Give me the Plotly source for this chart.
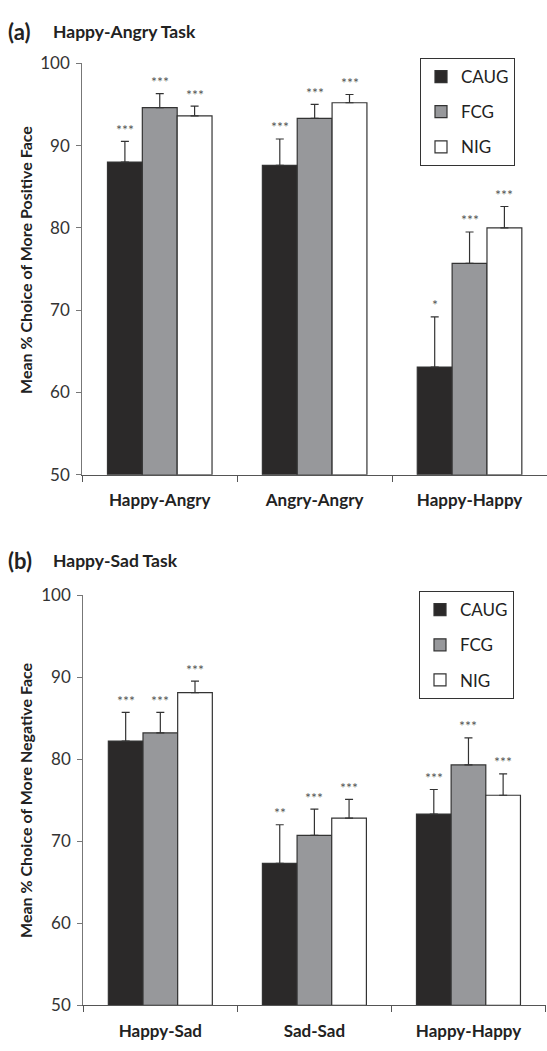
import plotly.graph_objects as go

W, H = 547, 1051

groups = ["CAUG", "FCG", "NIG"]
colors = ["#2b2929", "#97989b", "#ffffff"]

# Panel (a): Happy-Angry Task
a_categories = ["Happy-Angry", "Angry-Angry", "Happy-Happy"]
a_caug = [88.0, 87.6, 63.1]
a_fcg = [94.6, 93.3, 75.7]
a_nig = [93.6, 95.2, 80.0]
a_caug_err = [2.5, 3.2, 6.1]
a_fcg_err = [1.7, 1.7, 3.8]
a_nig_err = [1.2, 1.0, 2.6]
a_caug_sig = ["***", "***", "*"]
a_fcg_sig = ["***", "***", "***"]
a_nig_sig = ["***", "***", "***"]

# Panel (b): Happy-Sad Task
b_categories = ["Happy-Sad", "Sad-Sad", "Happy-Happy"]
b_caug = [82.2, 67.3, 73.3]
b_fcg = [83.2, 70.7, 79.3]
b_nig = [88.1, 72.8, 75.6]
b_caug_err = [3.5, 4.7, 3.0]
b_fcg_err = [2.5, 3.2, 3.3]
b_nig_err = [1.4, 2.3, 2.6]
b_caug_sig = ["***", "**", "***"]
b_fcg_sig = ["***", "***", "***"]
b_nig_sig = ["***", "***", "***"]

y_ticks = [50, 60, 70, 80, 90, 100]

FONT = "Lato"
BARGAP = 0.325


def px(x):
    return x / W


def py(y):
    return 1 - y / H


fig = go.Figure()
annotations = []

panels = [
    dict(cats=a_categories, vals=[a_caug, a_fcg, a_nig], errs=[a_caug_err, a_fcg_err, a_nig_err],
         sigs=[a_caug_sig, a_fcg_sig, a_nig_sig], xa="x", ya="y", legend="legend"),
    dict(cats=b_categories, vals=[b_caug, b_fcg, b_nig], errs=[b_caug_err, b_fcg_err, b_nig_err],
         sigs=[b_caug_sig, b_fcg_sig, b_nig_sig], xa="x2", ya="y2", legend="legend2"),
]

bw = (1 - BARGAP) / 3
for p in panels:
    for gi, g in enumerate(groups):
        fig.add_trace(go.Bar(
            x=p["cats"], y=[v - 50 for v in p["vals"][gi]], base=50, name=g,
            marker=dict(color=colors[gi], line=dict(color="#333333", width=1.2)),
            error_y=dict(type="data", array=p["errs"][gi], arrayminus=[0] * 3, symmetric=False,
                         color="#333333", thickness=1.2, width=4),
            xaxis=p["xa"], yaxis=p["ya"], legend=p["legend"], legendgroup=p["legend"] + g,
            hoverinfo="skip",
        ))
        for ci in range(3):
            annotations.append(dict(
                x=ci + (gi - 1) * bw, y=p["vals"][gi][ci] + p["errs"][gi][ci],
                xref=p["xa"], yref=p["ya"], text=p["sigs"][gi][ci], showarrow=False,
                yanchor="middle", xanchor="center", yshift=12,
                font=dict(family=FONT, size=14, color="#555555"),
            ))

# Headers and axis titles
annotations += [
    dict(x=px(6), y=py(21), xref="paper", yref="paper", text="(a)", showarrow=False,
         xanchor="left", yanchor="middle", font=dict(family=FONT, size=22, color="#222", weight="bold")),
    dict(x=px(51), y=py(21), xref="paper", yref="paper", text="Happy-Angry Task", showarrow=False,
         xanchor="left", yanchor="middle", font=dict(family=FONT, size=17.5, color="#222", weight="bold")),
    dict(x=px(6), y=py(561), xref="paper", yref="paper", text="(b)", showarrow=False,
         xanchor="left", yanchor="middle", font=dict(family=FONT, size=22, color="#222", weight="bold")),
    dict(x=px(51), y=py(561), xref="paper", yref="paper", text="Happy-Sad Task", showarrow=False,
         xanchor="left", yanchor="middle", font=dict(family=FONT, size=17.5, color="#222", weight="bold")),
    dict(x=px(26), y=py(254), xref="paper", yref="paper", text="Mean % Choice of More Positive Face",
         showarrow=False, textangle=-90, xanchor="center", yanchor="middle",
         font=dict(family=FONT, size=16, color="#222", weight="bold")),
    dict(x=px(26), y=py(805), xref="paper", yref="paper", text="Mean % Choice of More Negative Face",
         showarrow=False, textangle=-90, xanchor="center", yanchor="middle",
         font=dict(family=FONT, size=16, color="#222", weight="bold")),
]

xaxis_common = dict(type="category", tickson="boundaries", ticks="outside", ticklen=6,
                    tickcolor="#555", showline=True, linecolor="#555", linewidth=1.3,
                    showgrid=False, zeroline=False, range=[-0.5, 2.5],
                    tickfont=dict(family=FONT, size=17, color="#222", weight="bold"),
                    ticklabelstandoff=10, fixedrange=True)
yaxis_common = dict(range=[50, 100], tickvals=y_ticks, ticks="outside", ticklen=5,
                    tickcolor="#777", showline=True, linecolor="#777", linewidth=1.3,
                    showgrid=False, zeroline=False, ticklabelstandoff=3,
                    tickfont=dict(family=FONT, size=17, color="#333"), fixedrange=True)

legend_common = dict(bordercolor="#333", borderwidth=1, bgcolor="white",
                     font=dict(family=FONT, size=17, color="#222"),
                     xanchor="left", yanchor="top", tracegroupgap=10, itemclick=False)

fig.update_layout(
    width=W, height=H, margin=dict(l=0, r=0, t=0, b=0),
    paper_bgcolor="white", plot_bgcolor="white",
    barmode="group", bargap=BARGAP, bargroupgap=0,
    showlegend=True,
    xaxis=dict(domain=[px(82.3), 1.0], anchor="y", **xaxis_common),
    yaxis=dict(domain=[py(473.3), py(53.3)], anchor="x", **yaxis_common),
    xaxis2=dict(domain=[px(83.3), px(545.5)], anchor="y2", **xaxis_common),
    yaxis2=dict(domain=[py(1014.5), py(596)], anchor="x2", **yaxis_common),
    legend=dict(x=px(420), y=py(48), **legend_common),
    legend2=dict(x=px(419), y=py(592), **legend_common),
    annotations=annotations,
)

fig.write_html("out.html")
